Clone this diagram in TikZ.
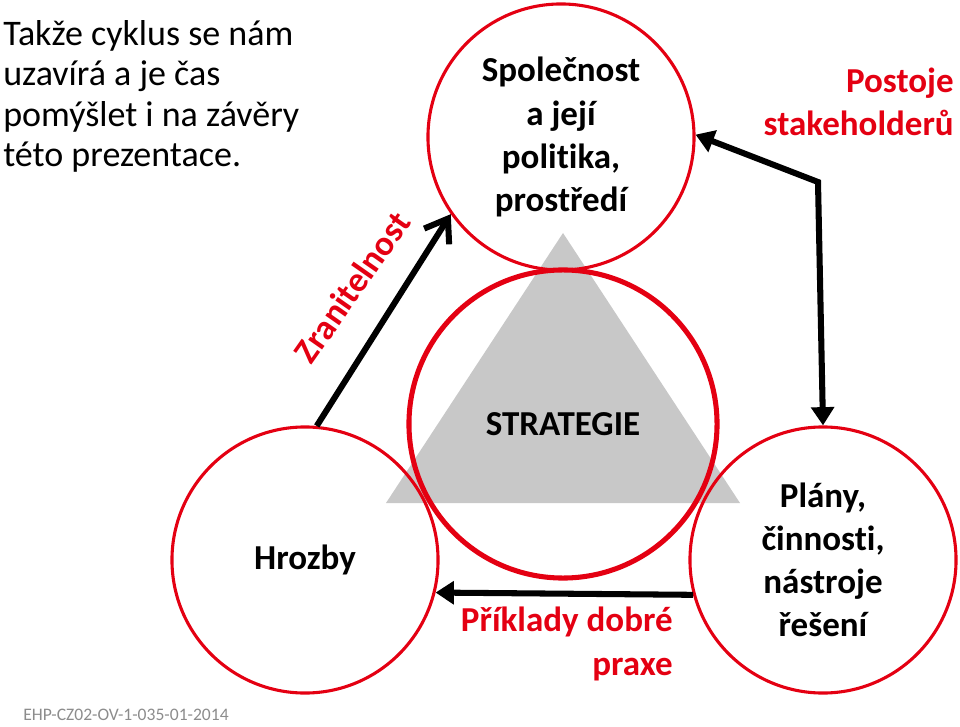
\documentclass[tikz,border=0pt]{standalone}
\usepackage{fontspec}
\setmainfont{Carlito}[Ligatures=NoCommon]
\usetikzlibrary{arrows.meta}
\definecolor{cervena}{RGB}{228,0,18}
\definecolor{seda}{RGB}{200,200,200}
\definecolor{sedapismo}{RGB}{140,140,140}
\tikzset{
  kruh/.style={circle, draw=cervena, line width=2.2pt, minimum size=6.65cm, inner sep=0pt,
    align=center, font=\bfseries\fontsize{24.9}{30.6}\selectfont},
  sipka/.style={line width=4.3pt, >={Triangle[length=13pt,width=16pt]}},
  popisek/.style={text=cervena, inner sep=0pt, font=\bfseries\fontsize{24.9}{30.6}\selectfont},
}
\begin{document}
\begin{tikzpicture}[x=0.025cm,y=-0.025cm]
\useasboundingbox (0,0) rectangle (960,727);
\fill[seda] (563,233) -- (740,503) -- (386,503) -- cycle;
\node[kruh] (spol) at (561,137) {Společnost\\a její\\politika,\\prostředí};
\node[kruh, minimum size=7.7cm, line width=3.6pt] (strat) at (563,424) {STRATEGIE};
\node[kruh] (hrozby) at (305,560) {Hrozby};
\node[kruh] (plany) at (823,560) {Plány,\\činnosti,\\nástroje\\řešení};
\coordinate (roh) at (818,182);
\draw[line width=4.3pt, -{Straight Barb[length=15pt,width=21pt]}] (hrozby.85) -- (spol.215);
\draw[sipka, <->] (spol.1) -- (roh) -- (plany.north);
\draw[sipka, ->] (plany.195) -- (hrozby.346);
\node[popisek, rotate=55] (zran) at (352,287) {Zranitelnost};
\node[popisek, align=right, anchor=base east] (postoje) at (954,136) {Postoje\\stakeholderů};
\node[popisek, align=right, anchor=base east] (priklady) at (673,675) {Příklady dobré\\praxe};
\node[inner sep=0pt, align=left, anchor=base west, font=\fontsize{25.6}{28.8}\selectfont] (uvod) at (3,167)
  {Takže cyklus se nám\\uzavírá a je čas\\pomýšlet i na závěry\\této prezentace.};
\node[inner sep=0pt, anchor=base west, text=sedapismo, font=\fontsize{12.5}{15}\selectfont] (kod) at (23,720)
  {EHP-CZ02-OV-1-035-01-2014};
\end{tikzpicture}
\end{document}
